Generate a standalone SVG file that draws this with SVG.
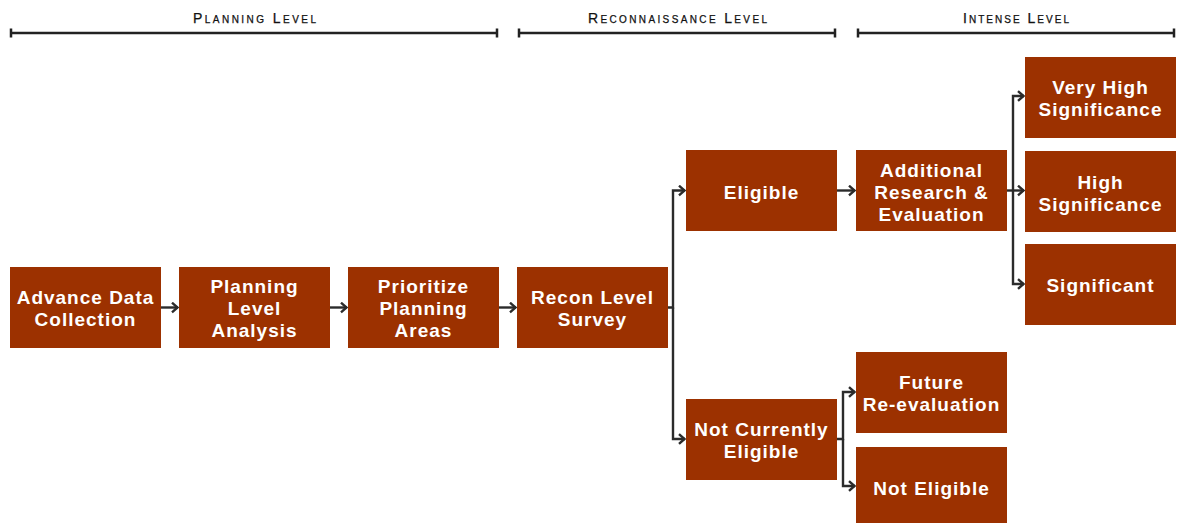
<svg xmlns="http://www.w3.org/2000/svg" width="1177" height="523" viewBox="0 0 1177 523">
<style>
.box{fill:#9c3100}
.t{font-family:"Liberation Sans",Arial,sans-serif;font-weight:bold;font-size:19px;letter-spacing:1px;fill:#fff;text-anchor:middle}
.h{font-family:"Liberation Sans",Arial,sans-serif;font-size:14px;font-variant:small-caps;fill:#111;stroke:#111;stroke-width:0.25;text-anchor:middle}
.rule{stroke:#222;stroke-width:2.5;fill:none}
.c{stroke:#2b2b2b;stroke-width:2.4;fill:none;marker-end:url(#arr)}
</style>
<defs>
<marker id="arr" viewBox="0 0 10 12" refX="8.5" refY="6" markerWidth="10" markerHeight="12" markerUnits="userSpaceOnUse" orient="auto">
<path d="M2.5,1.2 L8,6 L2.5,10.8" fill="none" stroke="#2b2b2b" stroke-width="2.4"/>
</marker>
</defs>
<rect width="1177" height="523" fill="#fff"/>
<g id="header">
<text class="h" x="254.5" y="23" textLength="123" lengthAdjust="spacing">Planning Level</text>
<path class="rule" d="M10,33 H498 M11,28.5 V37.5 M497,28.5 V37.5"/>
<text class="h" x="677.5" y="23" textLength="179" lengthAdjust="spacing">Reconnaissance Level</text>
<path class="rule" d="M518,33 H836 M519,28.5 V37.5 M835,28.5 V37.5"/>
<text class="h" x="1016" y="23" textLength="106" lengthAdjust="spacing">Intense Level</text>
<path class="rule" d="M857,33 H1175 M858,28.5 V37.5 M1174,28.5 V37.5"/>
</g>
<g id="connectors">
<path class="c" d="M161,307.5 H178"/>
<path class="c" d="M330,307.5 H347"/>
<path class="c" d="M499,307.5 H516"/>
<path class="c" d="M668,307.5 H673 V190.5 H685"/>
<path class="c" d="M673,307.5 V439 H685"/>
<path class="c" d="M837,190.5 H855"/>
<path class="c" d="M1007,190.5 H1024"/>
<path class="c" d="M1013,190.5 V96 H1024"/>
<path class="c" d="M1013,190.5 V284 H1024"/>
<path class="c" d="M837,439 H843 V392 H855"/>
<path class="c" d="M843,439 V486 H855"/>
</g>
<g id="advance">
<rect class="box" x="10" y="267" width="151" height="81"/>
<text class="t" x="85.5" y="303.5">Advance Data</text>
<text class="t" x="85.5" y="325.5">Collection</text>
</g>
<g id="planning">
<rect class="box" x="179" y="267" width="151" height="81"/>
<text class="t" x="254.5" y="293">Planning</text>
<text class="t" x="254.5" y="315">Level</text>
<text class="t" x="254.5" y="337">Analysis</text>
</g>
<g id="prioritize">
<rect class="box" x="348" y="267" width="151" height="81"/>
<text class="t" x="423.5" y="293">Prioritize</text>
<text class="t" x="423.5" y="315">Planning</text>
<text class="t" x="423.5" y="337">Areas</text>
</g>
<g id="recon">
<rect class="box" x="517" y="267" width="151" height="81"/>
<text class="t" x="592.5" y="303.5">Recon Level</text>
<text class="t" x="592.5" y="325.5">Survey</text>
</g>
<g id="eligible">
<rect class="box" x="686" y="150" width="151" height="81"/>
<text class="t" x="761.5" y="198.5">Eligible</text>
</g>
<g id="notcurrently">
<rect class="box" x="686" y="399" width="151" height="81"/>
<text class="t" x="761.5" y="435.5">Not Currently</text>
<text class="t" x="761.5" y="457.5">Eligible</text>
</g>
<g id="additional">
<rect class="box" x="856" y="150" width="151" height="81"/>
<text class="t" x="931.5" y="176.5">Additional</text>
<text class="t" x="931.5" y="198.5">Research &amp;</text>
<text class="t" x="931.5" y="220.5">Evaluation</text>
</g>
<g id="veryhigh">
<rect class="box" x="1025" y="57" width="151" height="81"/>
<text class="t" x="1100.5" y="93.5">Very High</text>
<text class="t" x="1100.5" y="115.5">Significance</text>
</g>
<g id="high">
<rect class="box" x="1025" y="151" width="151" height="81"/>
<text class="t" x="1100.5" y="189">High</text>
<text class="t" x="1100.5" y="211">Significance</text>
</g>
<g id="significant">
<rect class="box" x="1025" y="244" width="151" height="81"/>
<text class="t" x="1100.5" y="291.5">Significant</text>
</g>
<g id="future">
<rect class="box" x="856" y="352" width="151" height="81"/>
<text class="t" x="931.5" y="388.5">Future</text>
<text class="t" x="931.5" y="410.5">Re-evaluation</text>
</g>
<g id="noteligible">
<rect class="box" x="856" y="447" width="151" height="76"/>
<text class="t" x="931.5" y="494.5">Not Eligible</text>
</g>
</svg>
